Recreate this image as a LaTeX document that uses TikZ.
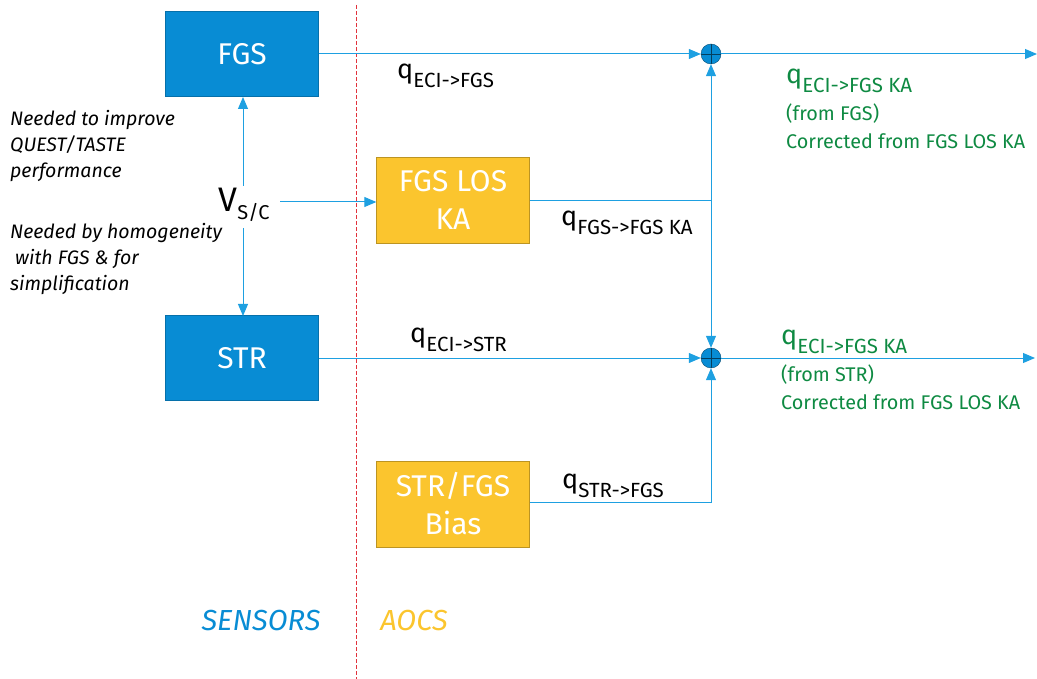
\documentclass[tikz,border=0pt]{standalone}
\usepackage{fontspec}
\setmainfont{Fira Sans}
\usetikzlibrary{arrows.meta}
\definecolor{esablue}{RGB}{8,140,212}
\definecolor{esaorange}{RGB}{251,197,46}
\definecolor{sigblue}{RGB}{30,160,225}
\definecolor{sigtext}{RGB}{14,138,66}
\definecolor{cutred}{RGB}{225,50,60}
\newcommand{\qsig}[1]{{\fontsize{27}{27}\selectfont q}\raisebox{-9pt}{\fontsize{20.5}{20.5}\selectfont #1}}
\newcommand{\fsz}[1]{\fontsize{#1}{#1}\selectfont}
\begin{document}
\begin{tikzpicture}[x=1pt,y=-1pt,>={Triangle[length=12pt,width=10pt]},
  sensor/.style={draw=esablue!80!black,fill=esablue,text=white,minimum width=153pt,minimum height=85pt,font=\fsz{30}},
  aocs/.style={draw=esaorange!75!black,fill=esaorange,text=white,minimum width=153pt,minimum height=86pt,align=center,font=\fontsize{30}{38}\selectfont},
  sumnode/.style={circle,draw=esablue!55!black,fill=esablue,minimum size=20pt,inner sep=0pt,
    path picture={\draw[esablue!45!black,line width=0.8pt] (path picture bounding box.north) -- (path picture bounding box.south) (path picture bounding box.west) -- (path picture bounding box.east);}},
  sig/.style={draw=sigblue,line width=1pt},
  note/.style={align=left,anchor=north west,inner sep=0pt,font=\fontsize{19.5}{26}\selectfont\itshape},
  result/.style={align=left,anchor=north west,inner sep=0pt,text=sigtext,font=\fontsize{19.8}{28}\selectfont}]
\useasboundingbox (0,0) rectangle (1037,679);
% sensors / aocs separation
\draw[cutred,line width=0.8pt,dash pattern=on 4pt off 2pt] (356,5) -- (356,679);
% blocks
\node[sensor] (fgs) at (242,54) {FGS};
\node[sensor] (str) at (242,358) {STR};
\node[aocs] (los) at (453,200) {FGS LOS\\KA};
\node[aocs] (bias) at (453,504) {STR/FGS\\Bias};
\node[sumnode] (sum1) at (711,54) {};
\node[sumnode] (sum2) at (711,358) {};
\coordinate (split) at (711,201);
\coordinate (out1) at (1037,54);
\coordinate (out2) at (1035,358);
% velocity
\node[inner sep=0pt] (vsc) at (244,205) {{\fsz{34}V}\raisebox{-8pt}{\fsz{20}S/C}};
\draw[sig,->] (243,186) -- (243,97);
\draw[sig,->] (243,228) -- (243,316);
\draw[sig,->] (280,202) -- (los.west |- 0,202);
% signals
\draw[sig,->] (fgs.east) -- (sum1.west);
\draw[sig,->] (str.east) -- (sum2.west);
\draw[sig] (los.east |- split) -- (split);
\draw[sig,->] (split) -- (sum1.south);
\draw[sig,->] (split) -- (sum2.north);
\draw[sig,->] (bias.east |- 0,502) -| (sum2.south);
\draw[sig,->] (sum1.east) -- (out1);
\draw[sig,->] (sum2.east) -- (out2);
% labels
\node[anchor=west,inner sep=0pt] (lfgs) at (397,76) {\qsig{ECI->FGS}};
\node[anchor=west,inner sep=0pt] (llos) at (561,223) {\qsig{FGS->FGS KA}};
\node[anchor=west,inner sep=0pt] (lstr) at (410,340) {\qsig{ECI->STR}};
\node[anchor=west,inner sep=0pt] (lbias) at (562,486) {\qsig{STR->FGS}};
\node[result] (res1) at (786,69) {\qsig{ECI->FGS KA}\\[9pt](from FGS)\\Corrected from FGS LOS KA};
\node[result] (res2) at (781,330) {\qsig{ECI->FGS KA}\\[9pt](from STR)\\Corrected from FGS LOS KA};
\node[note] (why1) at (10,110) {Needed to improve\\QUEST/TASTE\\performance};
\node[note] (why2) at (10,223) {Needed by homogeneity\\\hspace{5pt}with FGS \& for\\simplification};
\node[text=esablue,font=\fsz{29}\itshape] (sens) at (261,621) {SENSORS};
\node[text=esaorange,font=\fsz{29}\itshape] (ctrl) at (414,621) {AOCS};
\end{tikzpicture}
\end{document}
